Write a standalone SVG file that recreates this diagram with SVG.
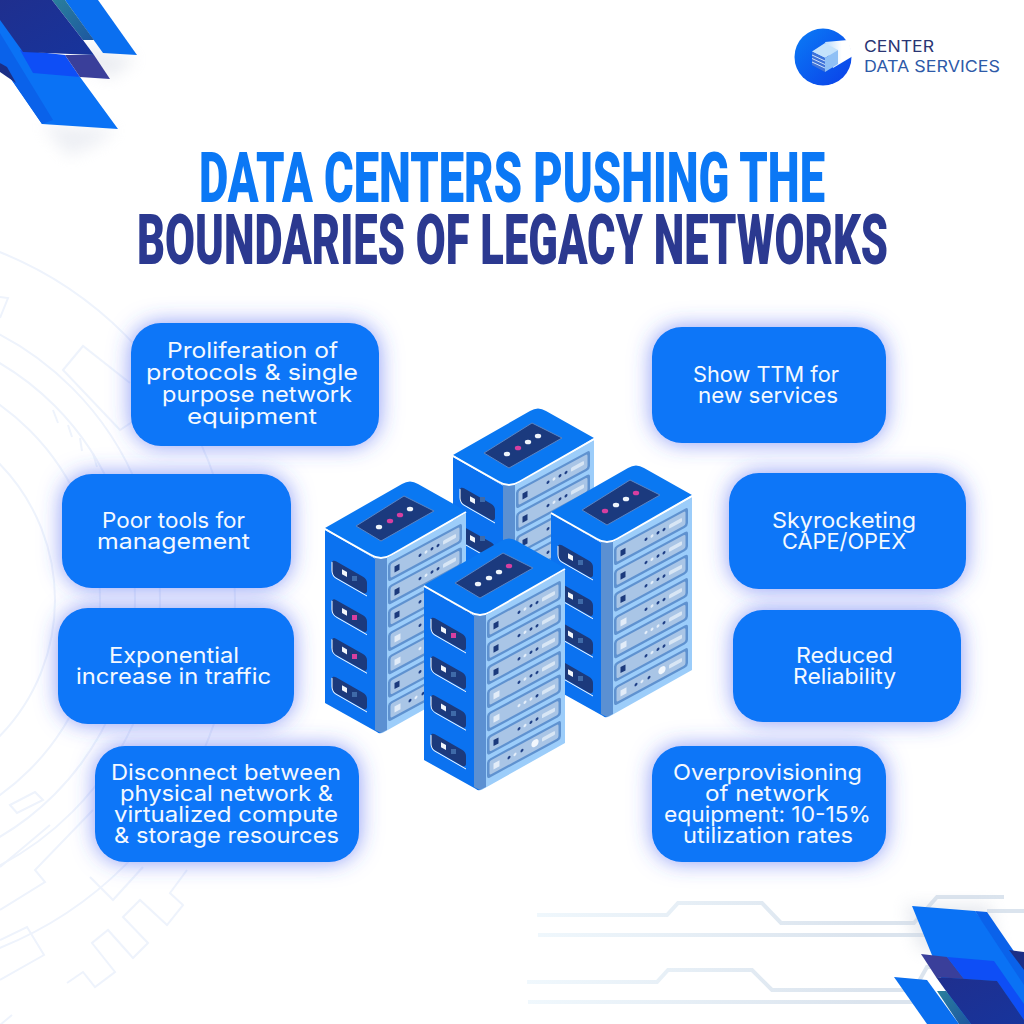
<svg xmlns="http://www.w3.org/2000/svg" width="1024" height="1024" viewBox="0 0 1024 1024">
<style>
.title{font-family:"Roboto","Liberation Sans",sans-serif;font-weight:900;font-size:71px}
.t{font-family:"Inter","Noto Sans",sans-serif;font-size:22px;fill:#f4f9ff;font-weight:400;text-anchor:start}
.card{fill:#0a76f8;filter:url(#glow)}
.bg{fill:none;stroke:#eef3fc;stroke-width:2}
.w{fill:#eef4fb}.k{fill:#d73fa0}.g{fill:#3f6aa8}
.dd{fill:#1f3f86}.dl{fill:#e4eefa}
</style>
<defs>
<filter id="glow" x="-25%" y="-30%" width="150%" height="160%"><feDropShadow dx="0" dy="0" stdDeviation="11" flood-color="#3a55f0" flood-opacity=".6"/></filter>
<filter id="soft" x="-50%" y="-50%" width="200%" height="200%"><feGaussianBlur stdDeviation="8"/></filter>
<linearGradient id="fade" gradientUnits="userSpaceOnUse" x1="525" y1="0" x2="860" y2="0"><stop offset="0" stop-color="#f0f8fd"/><stop offset="1" stop-color="#dbe4ee"/></linearGradient>
<linearGradient id="navy1" x1="0" y1="0" x2="1" y2="1"><stop offset="0" stop-color="#1f2f8e"/><stop offset="1" stop-color="#17349c"/></linearGradient>
<linearGradient id="teal" x1="0" y1="0" x2="1" y2="1"><stop offset="0" stop-color="#2a7f9c"/><stop offset="1" stop-color="#1d57a0"/></linearGradient>
<linearGradient id="logoG" x1="0" y1="0" x2="1" y2="1"><stop offset="0" stop-color="#0a7cf6"/><stop offset="1" stop-color="#0b3fe8"/></linearGradient>
<linearGradient id="gap" x1="0" y1="0" x2="1" y2="0"><stop offset="0" stop-color="#bcdcfb"/><stop offset=".6" stop-color="#ffffff"/></linearGradient>
<g id="pbase"><rect width="74" height="19" rx="3" fill="#5f92d0"/><rect x="2.500" y="2.500" width="69" height="14" rx="2" fill="#a9c5e6"/><rect x="55" y="7.500" width="13" height="4" rx="1" fill="#d8e6f5"/></g>
<g id="pd"><use href="#pbase"/><rect x="6.500" y="7" width="5" height="6" fill="#1c3a7c"/><circle class="dd" cx="32" cy="9.500" r="1.500"/><circle class="dl" cx="38" cy="9.500" r="1.500"/><circle class="dd" cx="44" cy="9.500" r="1.500"/><circle class="dd" cx="50" cy="9.500" r="1.500"/></g>
<g id="pl"><use href="#pbase"/><rect x="6.500" y="7" width="6" height="6" fill="#e2ecf8"/><circle class="dd" cx="32" cy="9.500" r="1.500"/><circle class="dl" cx="38" cy="9.500" r="1.500"/><circle class="dd" cx="44" cy="9.500" r="1.500"/><circle class="dd" cx="50" cy="9.500" r="1.500"/></g>
<g id="pll"><use href="#pbase"/><rect x="6.500" y="7" width="6" height="6" fill="#e2ecf8"/><circle class="dl" cx="32" cy="9.500" r="1.500"/><circle class="dl" cx="38" cy="9.500" r="1.500"/><circle class="dl" cx="44" cy="9.500" r="1.500"/><circle class="dd" cx="50" cy="9.500" r="1.500"/></g>
<g id="pz"><use href="#pbase"/><rect x="6.500" y="7" width="6" height="6" fill="#e2ecf8"/><circle class="dd" cx="22" cy="9.500" r="1.500"/><circle class="dl" cx="28" cy="9.500" r="1.500"/><circle class="dd" cx="35" cy="9.500" r="1.500"/><circle cx="48" cy="9" r="3.600" fill="#f2f7fd"/></g>
<g id="slot"><rect width="35" height="16" rx="4" fill="#1c3a7c"/><path d="M0,3V12Q0,17 5,17H35" fill="none" stroke="#fff" stroke-width="1"/><rect x="10" y="4.500" width="5" height="5" fill="#f2f6fb"/></g>
<g id="rack">
<path d="M424,587L480,619L480,790Q478,791 476,789L424,760Z" fill="#0b72f0"/>
<path d="M480,618L565,570V743L485,788Q480,791 480,790Z" fill="#9ccdfa"/>
<path d="M474,615L486,615V787L480,790L474,787Z" fill="#5b90d2"/>
<path d="M424,585L501,541Q509,536 517,541L565,568L490,613Q480,619 470,613Z" fill="#0a78f2"/>
<path d="M424,586L470,612Q480,618 490,612L565,569" fill="none" stroke="#fff" stroke-width="2"/>
<polygon points="455,583 503,553 533,568 480,598" fill="#1b3a7e" stroke="#5a84c4" stroke-width="1" stroke-linejoin="round"/>
<use href="#slot" transform="matrix(1,.57,0,1,431,616)"/>
<use href="#slot" transform="matrix(1,.57,0,1,431,654.700)"/>
<use href="#slot" transform="matrix(1,.57,0,1,431,693.400)"/>
<use href="#slot" transform="matrix(1,.57,0,1,431,732)"/>
<use href="#pd" transform="matrix(1,-.54,0,1,487,620)"/>
<use href="#pd" transform="matrix(1,-.54,0,1,487,643.300)"/>
<use href="#pd" transform="matrix(1,-.54,0,1,487,666.600)"/>
<use href="#pl" transform="matrix(1,-.54,0,1,487,690)"/>
<use href="#pll" transform="matrix(1,-.54,0,1,487,713.300)"/>
<use href="#pd" transform="matrix(1,-.54,0,1,487,736.600)"/>
<use href="#pz" transform="matrix(1,-.54,0,1,487,760)"/>
</g>
</defs>
<rect width="1024" height="1024" fill="#ffffff"/>
<g id="background-circuits">
<circle class="bg" cx="-140" cy="600" r="375"/><circle class="bg" cx="-140" cy="600" r="300"/><circle class="bg" cx="-140" cy="600" r="275"/><circle class="bg" cx="-140" cy="600" r="240"/><circle class="bg" cx="-140" cy="600" r="195"/>
<path class="bg" d="M130,383L83,346L63,370L120,430L135,420"/>
<path class="bg" d="M0,297L8,298L0,318"/>
<path class="bg" d="M53,410L58,423M68,425L72,437M80,438L82,451M93,453L97,467"/>
<path class="bg" d="M10,805L35,792L43,800L17,813Z"/>
<path class="bg" d="M0,867L50,825"/>
<path class="bg" d="M0,910L45,882L35,870L93,810"/>
<path class="bg" d="M0,940L27,927L44,955L0,980"/>
<path class="bg" d="M90,877L113,900L143,867"/>
<path class="bg" d="M187,870L170,893L183,905L167,925L140,900L123,917L148,943L133,958L108,930L92,943L115,972L95,987L83,972L67,983"/>
<path class="bg" d="M0,1025L12,1015"/>
<g fill="none" stroke="url(#fade)" stroke-width="4">
<path d="M537,915H667L678,903H762L781,923H914L937,897H1004"/>
<path d="M538,935H930"/>
<path d="M987,911H1024"/>
<path d="M527,982H657L668,970H752L772,990H914L927,967H945"/>
<path d="M528,1002H930"/>
</g>
</g>
<g id="corner-top-left">
<polygon points="42,124 118,129 95,145 68,156" fill="#d3d8e4" opacity=".4" filter="url(#soft)"/>
<polygon points="88,42 100,52 137,58 110,78 80,62" fill="#c9cfdc" opacity=".4" filter="url(#soft)"/>
<polygon points="65,0 98,0 137,55 103,53" fill="#0a6ff0"/>
<polygon points="52,0 65,0 94,40 83,40" fill="url(#teal)"/>
<polygon points="0,15 23,50 80,77 118,129 42,124 0,63" fill="#0a72f5"/>
<polygon points="0,33 53,120 42,124 0,63" fill="#0a62ea"/>
<polygon points="0,63 7,67 16,83 0,72" fill="#1b2f86"/>
<polygon points="20,50 65,55 80,77 33,73" fill="#0e4ef6"/>
<polygon points="65,55 94,55 110,79 80,77" fill="#3a3f9a"/>
<polygon points="0,0 52,0 83,40 94,55 23,52 0,20" fill="url(#navy1)"/>
</g>
<g id="corner-bottom-right">
<polygon points="905,905 990,905 1000,960 920,950" fill="#c9cfdc" opacity=".45" filter="url(#soft)"/>
<polygon points="912,906 975,911 1024,975 1024,1024 960,1024" fill="#0a72f5"/>
<polygon points="975,911 987,912 1024,966 1024,985" fill="#0a62ea"/>
<polygon points="1009,950 1024,952 1024,970" fill="#1b2f86"/>
<polygon points="921,954 947,957 964,979 936,977" fill="#3a3f9a"/>
<polygon points="947,957 994,961 1024,1004 1024,1020 997,981 964,979" fill="#0e4ef6"/>
<polygon points="936,977 997,981 1024,1020 1024,1024 971,1024 946,991" fill="url(#navy1)"/>
<polygon points="937,991 946,991 971,1024 959,1024" fill="url(#teal)"/>
<polygon points="894,977 927,980 959,1024 927,1024" fill="#0a6ff0"/>
</g>
<g id="logo">
<circle cx="823" cy="57" r="28.500" fill="url(#logoG)"/>
<polygon points="825,42 848,40 853,56 833,68" fill="url(#gap)"/>
<polygon points="812,51.500 825,43 838,50 825,58" fill="#c4e2fb"/>
<polygon points="812,52 825,58 825,72 812,65" fill="#3f73d8"/>
<path d="M812,55L825,61M812,58.500L825,64.500M812,62L825,68" stroke="#cfe4fb" stroke-width="1"/>
<polygon points="825,58 838,50 838,64 825,72" fill="#8fc0f5"/>
<text x="864" y="52" font-family="Inter,'Liberation Sans',sans-serif" font-size="16" fill="#2a3573" textLength="70" lengthAdjust="spacingAndGlyphs">CENTER</text>
<text x="864" y="72" font-family="Inter,'Liberation Sans',sans-serif" font-size="16" fill="#2e5aa8" textLength="136" lengthAdjust="spacingAndGlyphs">DATA SERVICES</text>
</g>
<g id="title">
<text class="title" x="199" y="202" fill="#0b78f5" textLength="626" lengthAdjust="spacingAndGlyphs">DATA CENTERS PUSHING THE</text>
<text class="title" x="137" y="264" fill="#2b3990" textLength="751" lengthAdjust="spacingAndGlyphs">BOUNDARIES OF LEGACY NETWORKS</text>
</g>
<g id="servers">
<g id="server-back" transform="translate(29,-130)"><use href="#rack"/><ellipse class="w" cx="478" cy="584" rx="3.200" ry="2.300"/><ellipse class="k" cx="489" cy="578" rx="3.200" ry="2.300"/><ellipse class="w" cx="499" cy="572" rx="3.200" ry="2.300"/><ellipse class="w" cx="509" cy="566" rx="3.200" ry="2.300"/><rect class="g" x="451" y="627" width="5" height="5"/><rect class="g" x="451" y="666" width="5" height="5"/></g>
<g id="server-left" transform="translate(-99,-57)"><use href="#rack"/><ellipse class="w" cx="478" cy="584" rx="3.200" ry="2.300"/><ellipse class="k" cx="489" cy="578" rx="3.200" ry="2.300"/><ellipse class="k" cx="499" cy="572" rx="3.200" ry="2.300"/><ellipse class="w" cx="509" cy="566" rx="3.200" ry="2.300"/><rect class="g" x="451" y="633" width="5" height="5"/><rect class="k" x="451" y="672" width="5" height="5"/><rect class="k" x="451" y="711" width="5" height="5"/><rect class="g" x="451" y="749" width="5" height="5"/></g>
<g id="server-right" transform="translate(127,-73)"><use href="#rack"/><ellipse class="k" cx="478" cy="584" rx="3.200" ry="2.300"/><ellipse class="w" cx="489" cy="578" rx="3.200" ry="2.300"/><ellipse class="w" cx="499" cy="572" rx="3.200" ry="2.300"/><ellipse class="k" cx="509" cy="566" rx="3.200" ry="2.300"/><rect class="g" x="451" y="633" width="5" height="5"/><rect class="g" x="451" y="672" width="5" height="5"/><rect class="g" x="451" y="711" width="5" height="5"/><rect class="g" x="451" y="749" width="5" height="5"/></g>
<g id="server-front"><use href="#rack"/><ellipse class="w" cx="478" cy="584" rx="3.200" ry="2.300"/><ellipse class="w" cx="489" cy="578" rx="3.200" ry="2.300"/><ellipse class="w" cx="499" cy="572" rx="3.200" ry="2.300"/><ellipse class="k" cx="509" cy="566" rx="3.200" ry="2.300"/><rect class="k" x="451" y="633" width="5" height="5"/><rect class="g" x="451" y="672" width="5" height="5"/><rect class="g" x="451" y="711" width="5" height="5"/><rect class="g" x="451" y="749" width="5" height="5"/></g>
</g>
<g id="node-proliferation"><rect class="card" x="131" y="323" width="248" height="123" rx="30"/>
<text class="t" x="167" y="358" textLength="171" lengthAdjust="spacingAndGlyphs">Proliferation of</text><text class="t" x="146" y="380" textLength="212" lengthAdjust="spacingAndGlyphs">protocols &amp; single</text><text class="t" x="162" y="402" textLength="190" lengthAdjust="spacingAndGlyphs">purpose network</text><text class="t" x="187" y="424" textLength="130" lengthAdjust="spacingAndGlyphs">equipment</text></g>
<g id="node-poor-tools"><rect class="card" x="62" y="474" width="229" height="114" rx="30"/>
<text class="t" x="102" y="528" textLength="143" lengthAdjust="spacingAndGlyphs">Poor tools for</text><text class="t" x="97" y="549" textLength="153" lengthAdjust="spacingAndGlyphs">management</text></g>
<g id="node-exponential"><rect class="card" x="58" y="608" width="236" height="116" rx="30"/>
<text class="t" x="109" y="663" textLength="130" lengthAdjust="spacingAndGlyphs">Exponential</text><text class="t" x="76" y="684" textLength="195" lengthAdjust="spacingAndGlyphs">increase in traffic</text></g>
<g id="node-disconnect"><rect class="card" x="95" y="746" width="264" height="116" rx="30"/>
<text class="t" x="111" y="780" textLength="230" lengthAdjust="spacingAndGlyphs">Disconnect between</text><text class="t" x="120" y="801" textLength="213" lengthAdjust="spacingAndGlyphs">physical network &amp;</text><text class="t" x="114" y="822" textLength="224" lengthAdjust="spacingAndGlyphs">virtualized compute</text><text class="t" x="114" y="843" textLength="225" lengthAdjust="spacingAndGlyphs">&amp; storage resources</text></g>
<g id="node-ttm"><rect class="card" x="652" y="327" width="234" height="116" rx="30"/>
<text class="t" x="693" y="382" textLength="146" lengthAdjust="spacingAndGlyphs">Show TTM for</text><text class="t" x="698" y="403" textLength="140" lengthAdjust="spacingAndGlyphs">new services</text></g>
<g id="node-capex"><rect class="card" x="729" y="473" width="237" height="116" rx="30"/>
<text class="t" x="772" y="528" textLength="144" lengthAdjust="spacingAndGlyphs">Skyrocketing</text><text class="t" x="782" y="549" textLength="124" lengthAdjust="spacingAndGlyphs">CAPE/OPEX</text></g>
<g id="node-reliability"><rect class="card" x="733" y="610" width="228" height="112" rx="30"/>
<text class="t" x="796" y="663" textLength="97" lengthAdjust="spacingAndGlyphs">Reduced</text><text class="t" x="793" y="684" textLength="103" lengthAdjust="spacingAndGlyphs">Reliability</text></g>
<g id="node-overprovisioning"><rect class="card" x="652" y="746" width="234" height="116" rx="30"/>
<text class="t" x="673" y="780" textLength="189" lengthAdjust="spacingAndGlyphs">Overprovisioning</text><text class="t" x="705" y="801" textLength="124" lengthAdjust="spacingAndGlyphs">of network</text><text class="t" x="664" y="822" textLength="207" lengthAdjust="spacingAndGlyphs">equipment: 10-15%</text><text class="t" x="683" y="843" textLength="170" lengthAdjust="spacingAndGlyphs">utilization rates</text></g>
</svg>
